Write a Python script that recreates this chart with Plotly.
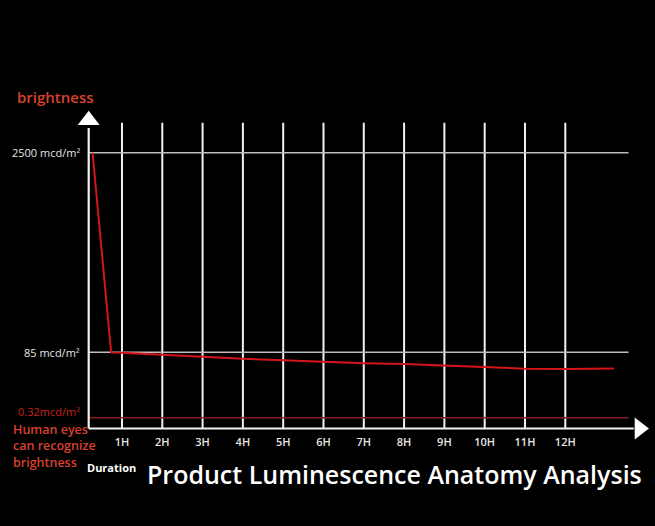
import plotly.graph_objects as go

# hours on the x axis, relative height on the y axis (2500 mcd/m2 line = 100)
hours = [1, 2, 3, 4, 5, 6, 7, 8, 9, 10, 11, 12]
hour_labels = ["1H", "2H", "3H", "4H", "5H", "6H", "7H", "8H", "9H", "10H", "11H", "12H"]

level_values = [100, 27.7, 3.9]
level_labels = ["2500 mcd/m²", "85 mcd/m²", "0.32mcd/m²"]

curve_hours = [0.27, 0.73, 1, 2, 3, 4, 5, 6, 7, 8, 9, 10, 11, 12, 13.21]
curve_level = [100, 27.6, 27.5, 26.8, 25.9, 25.3, 24.8, 24.2, 23.7, 23.4, 22.8, 22.2, 21.7, 21.6, 21.8]

axis_x = 0.174
line_end = 13.57
grid_top = 110.9

RED = "#d9412e"
WHITE = "#f2f2f2"
FONT = "Open Sans"

fig = go.Figure()

# vertical hour lines
vx, vy = [], []
for h in hours:
    vx += [h, h, None]
    vy += [0, grid_top, None]
fig.add_trace(go.Scatter(x=vx, y=vy, mode="lines", line=dict(color=WHITE, width=2),
                         hoverinfo="skip", showlegend=False))

# level lines
for val, col in zip(level_values, ["#bdbdbd", "#bdbdbd", "#821d1d"]):
    fig.add_trace(go.Scatter(x=[axis_x, line_end], y=[val, val], mode="lines",
                             line=dict(color=col, width=1.5), hoverinfo="skip", showlegend=False))

# axes
fig.add_trace(go.Scatter(x=[axis_x, axis_x, None, axis_x, 13.7], y=[109, 0, None, 0, 0], mode="lines",
                         line=dict(color=WHITE, width=2.2), hoverinfo="skip", showlegend=False))
fig.add_trace(go.Scatter(x=[axis_x], y=[111.8], mode="markers",
                         marker=dict(symbol="triangle-up", size=19, color="white"),
                         hoverinfo="skip", showlegend=False))
fig.add_trace(go.Scatter(x=[13.84], y=[0], mode="markers",
                         marker=dict(symbol="triangle-right", size=19, color="white"),
                         hoverinfo="skip", showlegend=False))

# brightness curve
fig.add_trace(go.Scatter(x=curve_hours, y=curve_level, mode="lines",
                         line=dict(color="#d4161c", width=2), showlegend=False))

ann = []
for val, txt in zip(level_values[:2], level_labels[:2]):
    ann.append(dict(x=0.02, y=val, text=txt, xanchor="right", yanchor="middle", showarrow=False,
                    font=dict(family=FONT, size=11, color="#e6e6e6")))
ann.append(dict(x=0.02, y=level_values[2] + 2.4, text=level_labels[2], xanchor="right", yanchor="middle",
                showarrow=False, font=dict(family=FONT, size=11, color="#c8251d")))
ann.append(dict(x=-1.76, y=-6.2, text="Human eyes<br>can recognize<br>brightness", xanchor="left",
                yanchor="middle", align="left", showarrow=False,
                font=dict(family=FONT, size=12.5, color=RED, weight=600)))
ann.append(dict(x=-1.66, y=120.2, text="brightness", xanchor="left", yanchor="middle", showarrow=False,
                font=dict(family=FONT, size=15, color=RED, weight=600)))
ann.append(dict(x=0.08, y=-14.3, text="Duration", xanchor="left", yanchor="middle", showarrow=False,
                font=dict(family=FONT, size=11, color="white", weight=700)))
ann.append(dict(x=7.76, y=-16.6, text="Product Luminescence Anatomy Analysis", xanchor="center",
                yanchor="middle", showarrow=False, font=dict(family=FONT, size=25, color="white", weight=600)))

fig.update_layout(
    width=655, height=526,
    margin=dict(l=0, r=0, t=0, b=0),
    paper_bgcolor="black", plot_bgcolor="black",
    annotations=ann,
    xaxis=dict(range=[-2.027, 14.226], showgrid=False, zeroline=False, showline=False,
               tickvals=hours, ticktext=hour_labels, ticks="outside", ticklen=3, tickcolor="black",
               tickfont=dict(family=FONT, size=11, color="#e6e6e6", weight=600),
               anchor="free", position=(526 - 428.5) / 526, fixedrange=True),
    yaxis=dict(range=[-35.35, 155.4], showgrid=False, zeroline=False, showline=False,
               showticklabels=False, fixedrange=True),
)

fig.write_html("out.html", config={"displayModeBar": False},
               post_script="document.body.style.margin='0';document.body.style.background='black';")
